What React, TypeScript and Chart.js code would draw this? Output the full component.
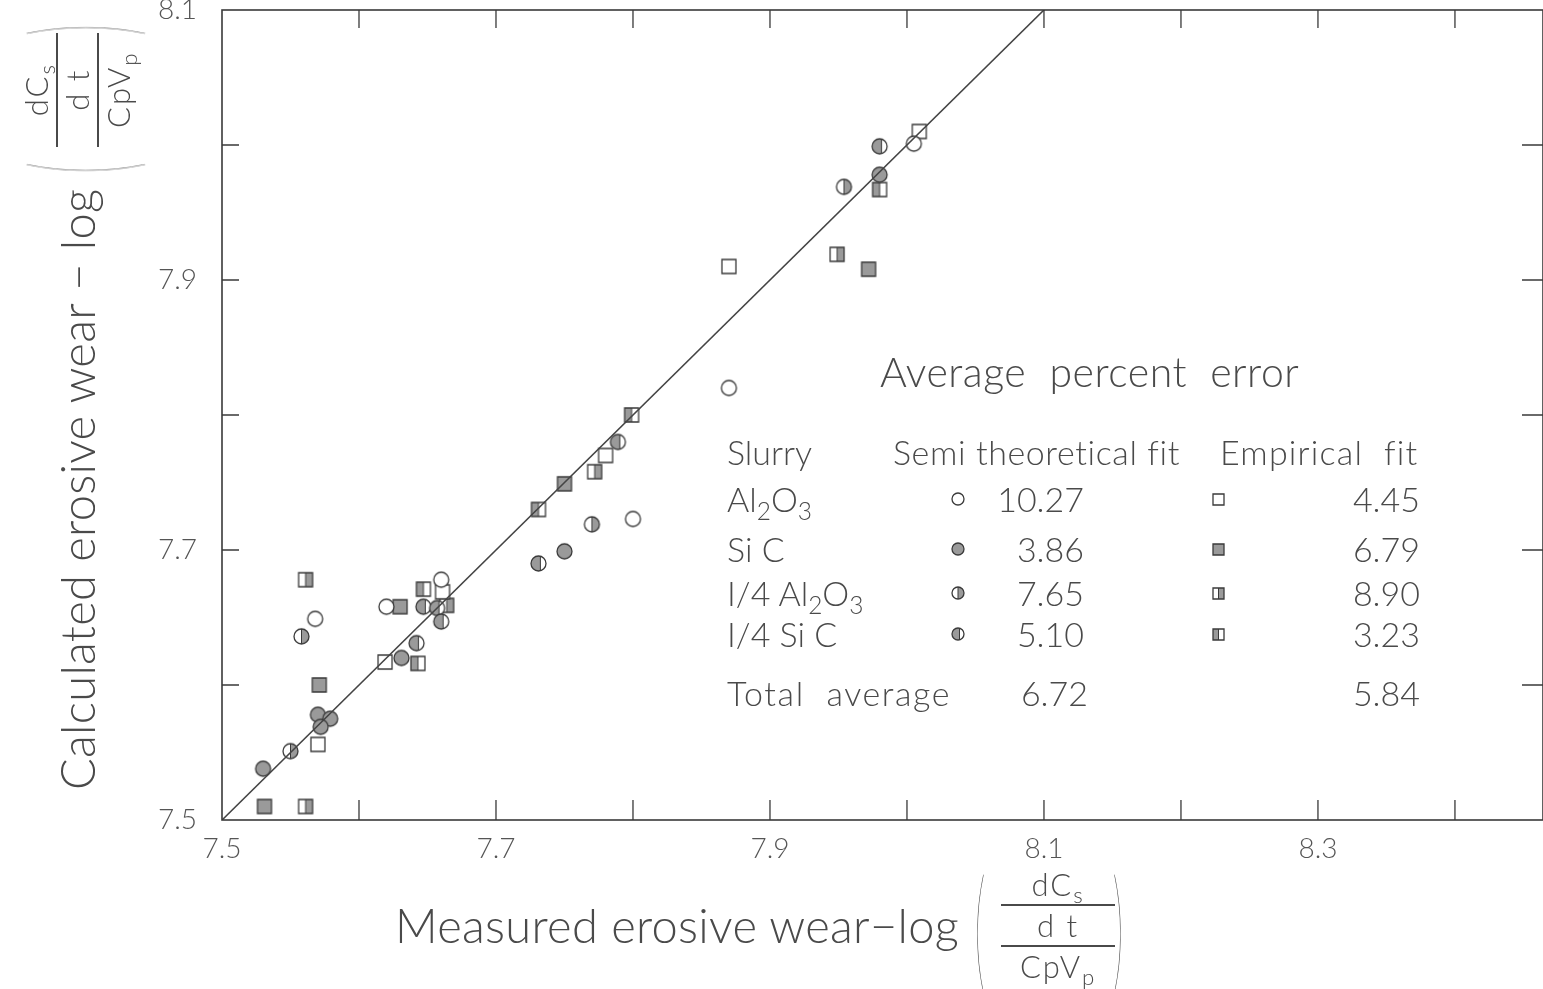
import React, { useEffect, useRef } from "react";
import { Chart, ScatterController, LineController, LineElement, PointElement, LinearScale } from "chart.js";

Chart.register(ScatterController, LineController, LineElement, PointElement, LinearScale);

const W = 1543;
const H = 989;
const FONT = "Lato, 'Open Sans', 'DejaVu Sans', sans-serif";
const TEXT = "#4a4a4a";
const EDGE = "#3a3a3a";
const SHADE = "#9a9a9a";

// ---- axis ticks ----
const xLabelValues = [7.5, 7.7, 7.9, 8.1, 8.3];
const xTickLabels = ["7.5", "7.7", "7.9", "8.1", "8.3"];
const yLabelValues = [7.5, 7.7, 7.9, 8.1];
const yTickLabels = ["7.5", "7.7", "7.9", "8.1"];
const xMarkTicks = [7.6, 7.7, 7.8, 7.9, 8.0, 8.1, 8.2, 8.3, 8.4];
const yMarkTicks = [7.6, 7.7, 7.8, 7.9, 8.0];

// ---- perfect-agreement line ----
const fitLineX = [7.5, 8.1];
const fitLineY = [7.5, 8.1];

// ---- semi-theoretical fit (circles) ----
const al2o3SemiX = [7.568, 7.62, 7.66, 7.8, 7.87, 8.005];
const al2o3SemiY = [7.649, 7.658, 7.678, 7.723, 7.82, 8.001];
const sicSemiX = [7.53, 7.57, 7.579, 7.572, 7.631, 7.75, 7.98];
const sicSemiY = [7.538, 7.578, 7.575, 7.569, 7.62, 7.699, 7.978];
const qAl2o3SemiX = [7.55, 7.558, 7.77, 7.954];
const qAl2o3SemiY = [7.551, 7.636, 7.719, 7.969];
const qSicSemiX = [7.647, 7.657, 7.66, 7.642, 7.731, 7.789, 7.98];
const qSicSemiY = [7.658, 7.657, 7.647, 7.631, 7.69, 7.78, 7.999];

// ---- empirical fit (squares) ----
const al2o3EmpX = [7.57, 7.619, 7.661, 7.78, 7.87, 8.009];
const al2o3EmpY = [7.556, 7.617, 7.669, 7.77, 7.91, 8.01];
const sicEmpX = [7.531, 7.571, 7.63, 7.75, 7.972];
const sicEmpY = [7.51, 7.6, 7.658, 7.749, 7.908];
const qAl2o3EmpX = [7.561, 7.561, 7.664, 7.772, 7.949];
const qAl2o3EmpY = [7.678, 7.51, 7.659, 7.758, 7.919];
const qSicEmpX = [7.647, 7.643, 7.731, 7.799, 7.98];
const qSicEmpY = [7.671, 7.616, 7.73, 7.8, 7.967];

// ---- table ----
const semiErrors = ["10.27", "3.86", "7.65", "5.10"];
const empErrors = ["4.45", "6.79", "8.90", "3.23"];
const semiTotal = "6.72";
const empTotal = "5.84";
const markerFills = ["open", "full", "right", "left"];

type Shape = "circle" | "square";

function makeMarker(shape: Shape, fill: string, size: number): HTMLCanvasElement {
  const pad = 2;
  const d = Math.ceil(size + pad * 2);
  const c = document.createElement("canvas");
  c.width = d;
  c.height = d;
  const ctx = c.getContext("2d")!;
  const cx = d / 2;
  const cy = d / 2;
  const r = size / 2;
  const path = () => {
    ctx.beginPath();
    if (shape === "circle") ctx.arc(cx, cy, r, 0, Math.PI * 2);
    else ctx.rect(cx - r, cy - r, size, size);
  };
  path();
  ctx.fillStyle = "#fff";
  ctx.fill();
  let split = -1;
  ctx.save();
  path();
  ctx.clip();
  ctx.fillStyle = SHADE;
  if (fill === "full") ctx.fillRect(0, 0, d, d);
  else if (fill === "right") {
    split = cx;
    ctx.fillRect(split, 0, d, d);
  } else if (fill === "left") {
    split = shape === "circle" ? cx + r * 0.25 : cx;
    ctx.fillRect(0, 0, split, d);
  }
  ctx.restore();
  ctx.strokeStyle = EDGE;
  ctx.lineWidth = 1.3;
  path();
  ctx.stroke();
  if (split > 0) {
    ctx.beginPath();
    ctx.moveTo(split, cy - r);
    ctx.lineTo(split, cy + r);
    ctx.lineWidth = 1;
    ctx.stroke();
  }
  return c;
}

function pts(xs: number[], ys: number[]) {
  return xs.map((x, i) => ({ x, y: ys[i] }));
}

const framePlugin = {
  id: "frameTicks",
  afterDraw(chart: any) {
    const { ctx, chartArea: a, scales } = chart;
    const xs = scales.x;
    const ys = scales.y;
    ctx.save();
    ctx.strokeStyle = EDGE;
    ctx.lineWidth = 1.6;
    ctx.strokeRect(a.left, a.top, a.right - a.left - 1, a.bottom - a.top);
    ctx.lineWidth = 1.3;
    ctx.beginPath();
    for (const v of xMarkTicks) {
      const px = xs.getPixelForValue(v);
      ctx.moveTo(px, a.bottom);
      ctx.lineTo(px, a.bottom - 20);
      ctx.moveTo(px, a.top);
      ctx.lineTo(px, a.top + 18);
    }
    for (const v of yMarkTicks) {
      const py = ys.getPixelForValue(v);
      ctx.moveTo(a.left, py);
      ctx.lineTo(a.left + 17, py);
      ctx.moveTo(a.right, py);
      ctx.lineTo(a.right - 22, py);
    }
    ctx.stroke();
    ctx.restore();
  },
};

function Sub({ children }: { children: React.ReactNode }) {
  return (
    <span style={{ fontSize: "0.72em", position: "relative", top: "0.32em" }}>{children}</span>
  );
}

function Txt(props: {
  x: number;
  base: number;
  size: number;
  align?: "left" | "right" | "center";
  spacing?: number;
  children: React.ReactNode;
}) {
  const { x, base, size, align = "left", spacing = 0, children } = props;
  const tx = align === "right" ? "translateX(-100%)" : align === "center" ? "translateX(-50%)" : "none";
  return (
    <div
      style={{
        position: "absolute",
        left: x,
        top: base - 0.887 * size,
        fontSize: size,
        lineHeight: 1,
        whiteSpace: "pre",
        letterSpacing: spacing,
        transform: tx,
      }}
    >
      {children}
    </div>
  );
}

function Paren({ ch, margin }: { ch: string; margin: string }) {
  return (
    <span
      style={{
        fontSize: 136,
        lineHeight: 1,
        display: "inline-block",
        transform: "scale(0.32, 1)",
        margin,
        fontWeight: 200,
      }}
    >
      {ch}
    </span>
  );
}

function Fraction() {
  const line = { borderTop: `2px solid ${TEXT}`, width: 114, margin: "4px 0" };
  return (
    <div
      style={{
        display: "flex",
        flexDirection: "column",
        alignItems: "center",
        fontSize: 31,
        lineHeight: 1,
        letterSpacing: 2,
      }}
    >
      <span>
        dC<Sub>s</Sub>
      </span>
      <div style={line} />
      <span>d t</span>
      <div style={line} />
      <span>
        CpV<Sub>p</Sub>
      </span>
    </div>
  );
}

function AxisTitle({ text }: { text: string }) {
  return (
    <div style={{ display: "flex", alignItems: "center", whiteSpace: "pre" }}>
      <span style={{ fontSize: 47, lineHeight: 1, letterSpacing: 0.3 }}>{text}</span>
      <span style={{ width: 16 }} />
      <Paren ch="(" margin="0 4px 0 -12px" />
      <Fraction />
      <Paren ch=")" margin="0 0 0 -14px" />
    </div>
  );
}

export default function App() {
  const ref = useRef<HTMLCanvasElement>(null);

  useEffect(() => {
    const mk = (shape: Shape, fill: string) => makeMarker(shape, fill, shape === "circle" ? 15 : 14);
    const ds = (label: string, xs: number[], ys: number[], shape: Shape, fill: string) => ({
      label,
      data: pts(xs, ys),
      pointStyle: mk(shape, fill),
      pointRadius: 8,
      showLine: false,
    });
    const chart = new Chart(ref.current!, {
      type: "scatter",
      data: {
        datasets: [
          {
            label: "Line",
            data: pts(fitLineX, fitLineY),
            showLine: true,
            borderColor: "#444",
            borderWidth: 1.6,
            pointRadius: 0,
            fill: false,
          } as any,
          ds("Al2O3 semi", al2o3SemiX, al2o3SemiY, "circle", "open"),
          ds("SiC semi", sicSemiX, sicSemiY, "circle", "full"),
          ds("1/4 Al2O3 semi", qAl2o3SemiX, qAl2o3SemiY, "circle", "right"),
          ds("1/4 SiC semi", qSicSemiX, qSicSemiY, "circle", "left"),
          ds("Al2O3 emp", al2o3EmpX, al2o3EmpY, "square", "open"),
          ds("SiC emp", sicEmpX, sicEmpY, "square", "full"),
          ds("1/4 Al2O3 emp", qAl2o3EmpX, qAl2o3EmpY, "square", "right"),
          ds("1/4 SiC emp", qSicEmpX, qSicEmpY, "square", "left"),
        ],
      },
      options: {
        responsive: false,
        animation: false,
        events: [],
        layout: { padding: { top: 10, right: 0, left: 0, bottom: 0 } },
        scales: {
          x: {
            type: "linear",
            min: 7.5,
            max: 8.465,
            afterBuildTicks: (s: any) => {
              s.ticks = xLabelValues.map((v) => ({ value: v }));
            },
            afterFit: (s: any) => {
              s.height = H - 820;
              s.paddingLeft = 0;
              s.paddingRight = 0;
            },
            ticks: {
              callback: (v: any) => {
                const i = xLabelValues.findIndex((t) => Math.abs(t - Number(v)) < 1e-6);
                return i >= 0 ? xTickLabels[i] : "";
              },
              font: { family: FONT, size: 28, weight: "300" as any },
              color: "#555",
              padding: 12,
              maxRotation: 0,
              autoSkip: false,
            },
            grid: { display: false, drawTicks: false },
            border: { display: false },
          },
          y: {
            type: "linear",
            min: 7.5,
            max: 8.1,
            afterBuildTicks: (s: any) => {
              s.ticks = yLabelValues.map((v) => ({ value: v }));
            },
            afterFit: (s: any) => {
              s.width = 222;
              s.paddingTop = 0;
              s.paddingBottom = 0;
            },
            ticks: {
              callback: (v: any) => {
                const i = yLabelValues.findIndex((t) => Math.abs(t - Number(v)) < 1e-6);
                return i >= 0 ? yTickLabels[i] : "";
              },
              font: { family: FONT, size: 28, weight: "300" as any },
              color: "#555",
              padding: 25,
              autoSkip: false,
            },
            grid: { display: false, drawTicks: false },
            border: { display: false },
          },
        },
      },
      plugins: [framePlugin],
    });
    return () => chart.destroy();
  }, []);

  const circleImgs = markerFills.map((f) => makeMarker("circle", f, 12).toDataURL());
  const squareImgs = markerFills.map((f) => makeMarker("square", f, 11).toDataURL());
  const rowBase = [512, 562, 606, 647];
  const slurryLabels = [
    <>
      Al<Sub>2</Sub>O<Sub>3</Sub>
    </>,
    <>Si C</>,
    <>
      I/4 Al<Sub>2</Sub>O<Sub>3</Sub>
    </>,
    <>I/4 Si C</>,
  ];

  const CW = W + 10;

  return (
    <div
      style={{
        position: "fixed",
        left: 0,
        top: 0,
        width: W,
        height: H,
        background: "#fff",
        fontFamily: FONT,
        fontWeight: 300,
        color: TEXT,
        overflow: "hidden",
      }}
    >
      <canvas ref={ref} width={CW} height={H} style={{ position: "absolute", left: 0, top: 0, width: CW, height: H }} />

      {/* x-axis title */}
      <div style={{ position: "absolute", left: 395, top: 925, transform: "translateY(-50%)" }}>
        <AxisTitle text="Measured erosive wear−log" />
      </div>

      {/* y-axis title: starts at y=790, reads upward */}
      <div
        style={{
          position: "absolute",
          left: 9,
          top: 790,
          transformOrigin: "0 0",
          transform: "rotate(-90deg)",
        }}
      >
        <AxisTitle text="Calculated erosive wear − log" />
      </div>

      {/* table legend */}
      <Txt x={880} base={387} size={41} spacing={0.5}>
        {"Average  percent  error"}
      </Txt>
      <Txt x={727} base={465} size={34}>
        Slurry
      </Txt>
      <Txt x={893} base={465} size={34} spacing={0.6}>
        Semi theoretical fit
      </Txt>
      <Txt x={1220} base={465} size={34} spacing={1.2}>
        {"Empirical  fit"}
      </Txt>
      {slurryLabels.map((l, i) => (
        <Txt key={"s" + i} x={727} base={rowBase[i]} size={34}>
          {l}
        </Txt>
      ))}
      {semiErrors.map((v, i) => (
        <Txt key={"e" + i} x={1084} base={rowBase[i]} size={34} align="right">
          {v}
        </Txt>
      ))}
      {empErrors.map((v, i) => (
        <Txt key={"m" + i} x={1420} base={rowBase[i]} size={34} align="right">
          {v}
        </Txt>
      ))}
      {circleImgs.map((src, i) => (
        <img
          key={"c" + i}
          src={src}
          style={{ position: "absolute", left: 958 - 8, top: rowBase[i] - 13 - 8 }}
        />
      ))}
      {squareImgs.map((src, i) => (
        <img
          key={"q" + i}
          src={src}
          style={{ position: "absolute", left: 1218 - 7.5, top: rowBase[i] - 13 - 7.5 }}
        />
      ))}
      <Txt x={727} base={706} size={34} spacing={1.6}>
        {"Total  average"}
      </Txt>
      <Txt x={1088} base={706} size={34} align="right">
        {semiTotal}
      </Txt>
      <Txt x={1420} base={706} size={34} align="right">
        {empTotal}
      </Txt>
    </div>
  );
}
